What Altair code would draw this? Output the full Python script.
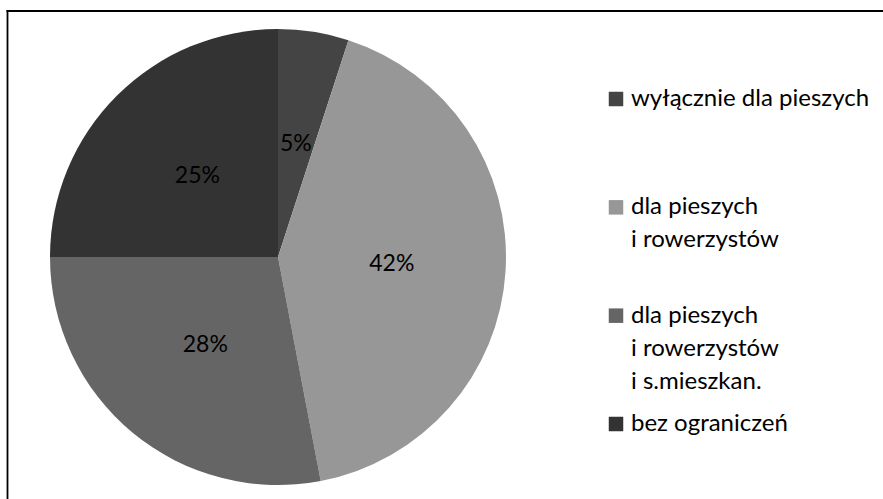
import altair as alt
import pandas as pd

categories = [
    "wyłącznie dla pieszych",
    "dla pieszych\ni rowerzystów",
    "dla pieszych\ni rowerzystów\ni s.mieszkan.",
    "bez ograniczeń",
]
values = [5, 42, 28, 25]
colors = ["#444444", "#979797", "#656565", "#333333"]

df = pd.DataFrame({"cat": categories, "pct": values, "order": list(range(len(values)))})
df["label"] = df["pct"].astype(str) + "%"

base = alt.Chart(df)
color = alt.Color("cat:N", scale=alt.Scale(domain=categories, range=colors), legend=None)
cx, cy = 278, 257

pie = base.mark_arc(outerRadius=228).encode(
    theta=alt.Theta("pct:Q", stack=True),
    order=alt.Order("order:Q"),
    color=color,
    x=alt.value(cx),
    y=alt.value(cy),
)

labels = base.mark_text(radius=114, font="Lato", fontSize=23, color="black").encode(
    theta=alt.Theta("pct:Q", stack=True),
    order=alt.Order("order:Q"),
    text="label:N",
    x=alt.value(cx),
    y=alt.value(cy),
)

yscale = alt.Scale(type="point", domain=categories, range=[99, 424], padding=0)

leg_sq = base.mark_square(size=210, opacity=1, strokeWidth=0).encode(
    x=alt.value(616),
    y=alt.Y("cat:N", scale=yscale, axis=None),
    color=color,
)

leg_txt = base.mark_text(
    align="left", baseline="alphabetic", dy=7, font="Lato", fontSize=24,
    lineBreak="\n", lineHeight=33, color="black",
).encode(
    x=alt.value(631),
    y=alt.Y("cat:N", scale=yscale, axis=None),
    text="cat:N",
)

frame_df = alt.Chart(pd.DataFrame({"a": [0]}))
top_rule = frame_df.mark_rule(color="black", strokeWidth=1.8).encode(
    x=alt.value(6.5), x2=alt.value(883), y=alt.value(11)
)
left_rule = frame_df.mark_rule(color="black", strokeWidth=1.8).encode(
    x=alt.value(7.5), y=alt.value(10), y2=alt.value(499)
)

chart = alt.layer(top_rule, left_rule, pie, labels, leg_sq, leg_txt).properties(
    width=883, height=499, padding=0, autosize="none", background="white"
).configure_view(stroke=None)

chart.save("out.html", embed_options={"renderer": "svg", "actions": False})
